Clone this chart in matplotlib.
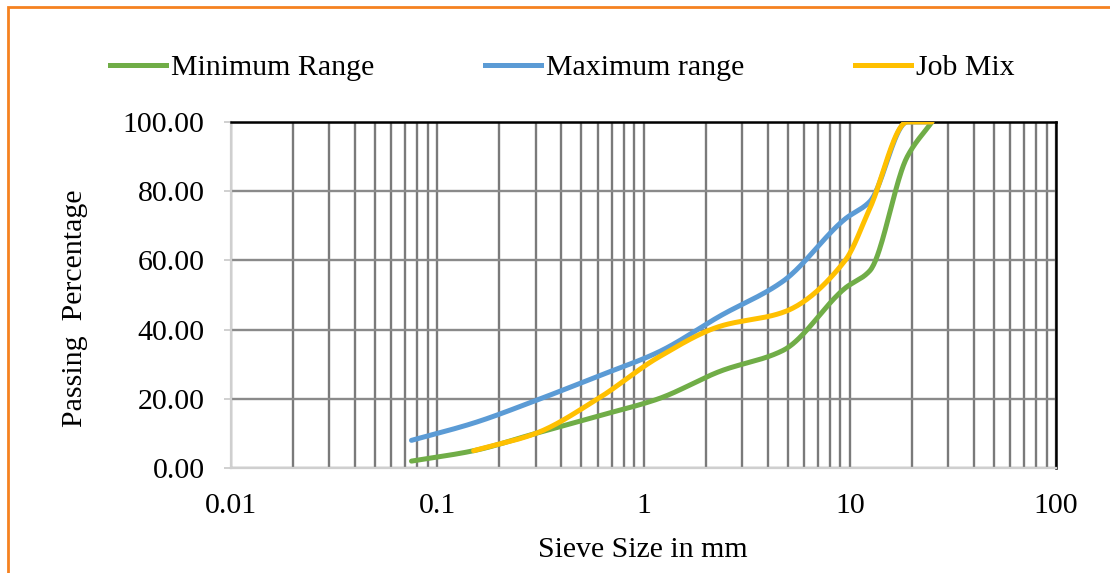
import numpy as np
import matplotlib
matplotlib.use("Agg")
from matplotlib import pyplot as plt
from matplotlib.lines import Line2D
from matplotlib.patches import Rectangle

plt.rcParams['font.family'] = ['Liberation Serif', 'DejaVu Serif']

# sieve sizes (mm) and passing percentages
sieve = [0.075, 0.15, 0.3, 0.6, 1.18, 2.36, 4.75, 9.5, 12.5, 19, 25]
min_range = [2, 5, 10, 15, 20, 28, 34, 52, 57, 90, 100]
max_range = [8, 13, 19.5, 26.5, 33.5, 44, 54, 72, 77, 100, 100]
job_mix = [np.nan, 5, 10, 20, 32, 41, 45, 60, 75, 100, 100]

x_ticks = [0.01, 0.1, 1, 10, 100]
x_labels = ['0.01', '0.1', '1', '10', '100']
y_ticks = [0, 20, 40, 60, 80, 100]

GREEN = '#70AD47'
BLUE = '#5B9BD5'
YELLOW = '#FFC000'
FS = 21.5


def smooth(xs, ys, n=40):
    # monotone cubic through the points in log-x space, just for a smooth line
    xs = np.asarray(xs, float)
    ys = np.asarray(ys, float)
    ok = ~np.isnan(ys)
    x = np.log10(xs[ok])
    y = ys[ok]
    h = np.diff(x)
    d = np.diff(y) / h
    m = np.zeros_like(y)
    m[0], m[-1] = d[0], d[-1]
    for k in range(1, len(y) - 1):
        if d[k - 1] * d[k] <= 0:
            m[k] = 0
        else:
            w1 = 2 * h[k] + h[k - 1]
            w2 = h[k] + 2 * h[k - 1]
            m[k] = (w1 + w2) / (w1 / d[k - 1] + w2 / d[k])
    out_x, out_y = [], []
    t = np.linspace(0, 1, n)
    for k in range(len(h)):
        h00 = 2 * t ** 3 - 3 * t ** 2 + 1
        h10 = t ** 3 - 2 * t ** 2 + t
        h01 = -2 * t ** 3 + 3 * t ** 2
        h11 = t ** 3 - t ** 2
        out_x.extend(x[k] + t * h[k])
        out_y.extend(h00 * y[k] + h10 * h[k] * m[k] + h01 * y[k + 1] + h11 * h[k] * m[k + 1])
    return 10 ** np.array(out_x), np.array(out_y)


fig = plt.figure(figsize=(11.1, 5.73), dpi=100)
ax = fig.add_axes([0.2081, 0.1832, 0.7433, 0.6039])

for ys, c in ((min_range, GREEN), (max_range, BLUE), (job_mix, YELLOW)):
    sx, sy = smooth(sieve, ys)
    ax.plot(sx, sy, color=c, lw=3.6, solid_capstyle='round', zorder=3)

ax.set_xscale('log')
ax.set_xlim(0.01, 100)
ax.set_ylim(0, 100)
ax.set_xticks(x_ticks)
ax.set_xticklabels(x_labels)
ax.set_yticks(y_ticks)
ax.set_yticklabels(['%.2f' % v for v in y_ticks])

ax.grid(which='both', axis='x', color='#7a7a7a', lw=1.7)
ax.grid(which='major', axis='y', color='#8a8a8a', lw=1.7)
ax.set_axisbelow(True)

ax.tick_params(axis='x', which='both', length=0, labelsize=FS, pad=18)
ax.tick_params(axis='y', length=5, width=1.2, color='#c8c8c8', labelsize=FS, pad=14)

for s in ('top', 'right'):
    ax.spines[s].set_color('black')
    ax.spines[s].set_linewidth(1.8)
for s in ('left', 'bottom'):
    ax.spines[s].set_color('#cfcfcf')
    ax.spines[s].set_linewidth(1.6)

fig.text(75 / 1110, 1 - 308 / 573, 'Passing  Percentage', rotation=90,
         ha='center', va='center', fontsize=FS)
fig.text(643 / 1110, 1 - 550 / 573, 'Sieve Size in mm', ha='center',
         va='center', fontsize=FS)

handles = [Line2D([], [], color=GREEN, lw=3.6),
           Line2D([], [], color=BLUE, lw=3.6),
           Line2D([], [], color=YELLOW, lw=3.6)]
fig.legend(handles, ['Minimum Range', 'Maximum range', 'Job Mix'], ncol=3,
           loc='center', bbox_to_anchor=(562 / 1110, 1 - 68 / 573),
           frameon=False, fontsize=FS, handlelength=1.9, handletextpad=0.15,
           columnspacing=3.7)

fig.patches.append(Rectangle((8 / 1110, -0.1), 1.2, 1 - 7 / 573 + 0.1,
                             transform=fig.transFigure, fill=False,
                             edgecolor='#F58220', lw=2))

fig.savefig('out.png', dpi=100)
